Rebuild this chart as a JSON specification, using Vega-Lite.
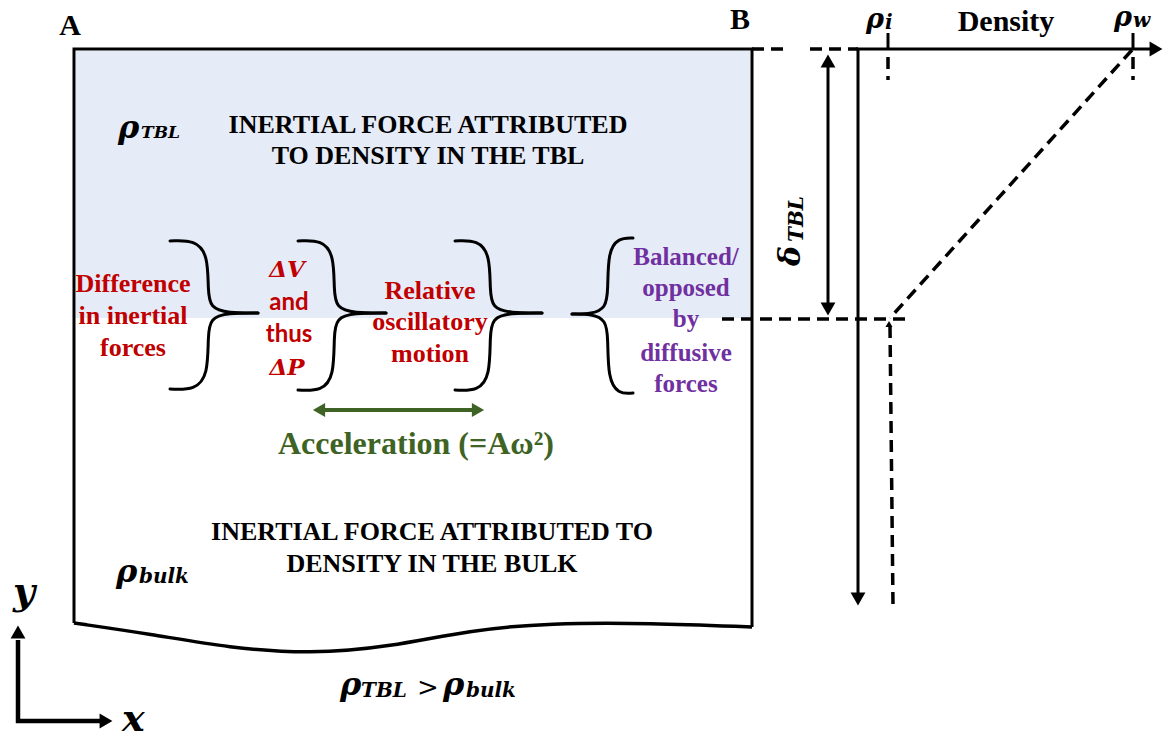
{
  "$schema": "https://vega.github.io/schema/vega-lite/v6.json",
  "width": 1174,
  "height": 740,
  "autosize": {"type": "fit", "contains": "padding"},
  "padding": 0,
  "background": "white",
  "config": {"view": {"stroke": null}},
  "encoding": {
    "x": {"field": "x", "type": "quantitative", "scale": {"domain": [0, 1174], "nice": false, "zero": false}, "axis": null},
    "y": {"field": "y", "type": "quantitative", "scale": {"domain": [0, 740], "nice": false, "zero": false, "reverse": true}, "axis": null}
  },
  "layer": [
    {
      "data": {"values": [{"x": 76, "y": 51, "x2": 750, "y2": 318}]},
      "mark": {"type": "rect", "fill": "#e5ebf7"},
      "encoding": {"x2": {"field": "x2"}, "y2": {"field": "y2"}}
    },
    {
      "data": {"values": [
        {"id": "box", "o": 1, "x": 74, "y": 623}, {"id": "box", "o": 2, "x": 74, "y": 49}, {"id": "box", "o": 3, "x": 752, "y": 49}, {"id": "box", "o": 4, "x": 752, "y": 627},
        {"id": "dv", "o": 1, "x": 858, "y": 49}, {"id": "dv", "o": 2, "x": 858, "y": 596},
        {"id": "dh", "o": 1, "x": 856, "y": 49}, {"id": "dh", "o": 2, "x": 1150, "y": 49},
        {"id": "dl", "o": 1, "x": 828, "y": 66}, {"id": "dl", "o": 2, "x": 828, "y": 304},
        {"id": "ti", "o": 1, "x": 888, "y": 33}, {"id": "ti", "o": 2, "x": 888, "y": 49},
        {"id": "tw", "o": 1, "x": 1133, "y": 33}, {"id": "tw", "o": 2, "x": 1133, "y": 49}
      ]},
      "mark": {"type": "line", "color": "black", "strokeWidth": 3},
      "encoding": {"detail": {"field": "id"}, "order": {"field": "o", "type": "quantitative"}}
    },
    {
      "data": {"values": [
        {"id": "ya", "o": 1, "x": 18, "y": 723}, {"id": "ya", "o": 2, "x": 18, "y": 640},
        {"id": "xa", "o": 1, "x": 16, "y": 721}, {"id": "xa", "o": 2, "x": 100, "y": 721}
      ]},
      "mark": {"type": "line", "color": "black", "strokeWidth": 4.5},
      "encoding": {"detail": {"field": "id"}, "order": {"field": "o", "type": "quantitative"}}
    },
    {
      "data": {"values": [
        {"id": "w", "o": 1, "x": 74, "y": 623}, {"id": "w", "o": 2, "x": 150, "y": 634}, {"id": "w", "o": 3, "x": 230, "y": 648},
        {"id": "w", "o": 4, "x": 310, "y": 654}, {"id": "w", "o": 5, "x": 390, "y": 647}, {"id": "w", "o": 6, "x": 470, "y": 630},
        {"id": "w", "o": 7, "x": 550, "y": 623}, {"id": "w", "o": 8, "x": 650, "y": 623}, {"id": "w", "o": 9, "x": 752, "y": 627}
      ]},
      "mark": {"type": "line", "color": "black", "strokeWidth": 3.5, "interpolate": "basis"},
      "encoding": {"detail": {"field": "id"}, "order": {"field": "o", "type": "quantitative"}}
    },
    {
      "data": {"values": [
        {"id": "b1u", "o": 1, "x": 170, "y": 241}, {"id": "b1u", "o": 2, "x": 195, "y": 240}, {"id": "b1u", "o": 3, "x": 208, "y": 255}, {"id": "b1u", "o": 4, "x": 208, "y": 290}, {"id": "b1u", "o": 5, "x": 210, "y": 308}, {"id": "b1u", "o": 6, "x": 228, "y": 313}, {"id": "b1u", "o": 7, "x": 258, "y": 313},
        {"id": "b1l", "o": 1, "x": 170, "y": 389}, {"id": "b1l", "o": 2, "x": 195, "y": 390}, {"id": "b1l", "o": 3, "x": 208, "y": 375}, {"id": "b1l", "o": 4, "x": 208, "y": 336}, {"id": "b1l", "o": 5, "x": 210, "y": 318}, {"id": "b1l", "o": 6, "x": 228, "y": 313}, {"id": "b1l", "o": 7, "x": 258, "y": 313},
        {"id": "b2u", "o": 1, "x": 298, "y": 241}, {"id": "b2u", "o": 2, "x": 322, "y": 240}, {"id": "b2u", "o": 3, "x": 334, "y": 255}, {"id": "b2u", "o": 4, "x": 334, "y": 290}, {"id": "b2u", "o": 5, "x": 336, "y": 308}, {"id": "b2u", "o": 6, "x": 354, "y": 313}, {"id": "b2u", "o": 7, "x": 386, "y": 313},
        {"id": "b2l", "o": 1, "x": 298, "y": 390}, {"id": "b2l", "o": 2, "x": 322, "y": 391}, {"id": "b2l", "o": 3, "x": 334, "y": 376}, {"id": "b2l", "o": 4, "x": 334, "y": 336}, {"id": "b2l", "o": 5, "x": 336, "y": 318}, {"id": "b2l", "o": 6, "x": 354, "y": 313}, {"id": "b2l", "o": 7, "x": 386, "y": 313},
        {"id": "b3u", "o": 1, "x": 455, "y": 241}, {"id": "b3u", "o": 2, "x": 478, "y": 240}, {"id": "b3u", "o": 3, "x": 490, "y": 255}, {"id": "b3u", "o": 4, "x": 490, "y": 290}, {"id": "b3u", "o": 5, "x": 492, "y": 308}, {"id": "b3u", "o": 6, "x": 510, "y": 313}, {"id": "b3u", "o": 7, "x": 542, "y": 313},
        {"id": "b3l", "o": 1, "x": 455, "y": 390}, {"id": "b3l", "o": 2, "x": 478, "y": 391}, {"id": "b3l", "o": 3, "x": 490, "y": 376}, {"id": "b3l", "o": 4, "x": 490, "y": 336}, {"id": "b3l", "o": 5, "x": 492, "y": 318}, {"id": "b3l", "o": 6, "x": 510, "y": 313}, {"id": "b3l", "o": 7, "x": 542, "y": 313},
        {"id": "b4u", "o": 1, "x": 633, "y": 238}, {"id": "b4u", "o": 2, "x": 618, "y": 238}, {"id": "b4u", "o": 3, "x": 608, "y": 252}, {"id": "b4u", "o": 4, "x": 608, "y": 290}, {"id": "b4u", "o": 5, "x": 606, "y": 308}, {"id": "b4u", "o": 6, "x": 592, "y": 314}, {"id": "b4u", "o": 7, "x": 572, "y": 314},
        {"id": "b4l", "o": 1, "x": 633, "y": 393}, {"id": "b4l", "o": 2, "x": 618, "y": 394}, {"id": "b4l", "o": 3, "x": 608, "y": 378}, {"id": "b4l", "o": 4, "x": 608, "y": 338}, {"id": "b4l", "o": 5, "x": 606, "y": 320}, {"id": "b4l", "o": 6, "x": 592, "y": 314}, {"id": "b4l", "o": 7, "x": 572, "y": 314}
      ]},
      "mark": {"type": "line", "color": "black", "strokeWidth": 3, "interpolate": "basis", "strokeCap": "round"},
      "encoding": {"detail": {"field": "id"}, "order": {"field": "o", "type": "quantitative"}}
    },
    {
      "data": {"values": [
        {"id": "top", "o": 1, "x": 752, "y": 49}, {"id": "top", "o": 2, "x": 790, "y": 49},
        {"id": "top2", "o": 1, "x": 810, "y": 49}, {"id": "top2", "o": 2, "x": 858, "y": 49},
        {"id": "bot", "o": 1, "x": 722, "y": 319}, {"id": "bot", "o": 2, "x": 905, "y": 319},
        {"id": "di", "o": 1, "x": 888, "y": 57}, {"id": "di", "o": 2, "x": 888, "y": 80},
        {"id": "dw", "o": 1, "x": 1133, "y": 57}, {"id": "dw", "o": 2, "x": 1133, "y": 80},
        {"id": "diag", "o": 1, "x": 1132, "y": 50}, {"id": "diag", "o": 2, "x": 890, "y": 318},
        {"id": "vert", "o": 1, "x": 890, "y": 326}, {"id": "vert", "o": 2, "x": 893, "y": 606}
      ]},
      "mark": {"type": "line", "color": "black", "strokeWidth": 3.5, "strokeDash": [12, 7]},
      "encoding": {"detail": {"field": "id"}, "order": {"field": "o", "type": "quantitative"}}
    },
    {
      "data": {"values": [{"id": "g", "o": 1, "x": 320, "y": 410}, {"id": "g", "o": 2, "x": 477, "y": 410}]},
      "mark": {"type": "line", "color": "#3e6324", "strokeWidth": 4},
      "encoding": {"detail": {"field": "id"}, "order": {"field": "o", "type": "quantitative"}}
    },
    {
      "data": {"values": [
        {"x": 828, "y": 61, "dir": "up"}, {"x": 828, "y": 309, "dir": "down"}, {"x": 858, "y": 599, "dir": "down"},
        {"x": 1156, "y": 49, "dir": "right"}, {"x": 18, "y": 632, "dir": "up"}, {"x": 106, "y": 721, "dir": "right"}
      ]},
      "mark": {"type": "point", "filled": true, "color": "black", "size": 220, "opacity": 1},
      "encoding": {"shape": {"field": "dir", "scale": {"domain": ["up", "down", "left", "right"], "range": ["triangle-up", "triangle-down", "triangle-left", "triangle-right"]}, "legend": null}}
    },
    {
      "data": {"values": [{"x": 889, "y": 324, "dir": "up"}]},
      "mark": {"type": "point", "filled": true, "color": "black", "size": 50, "opacity": 1, "shape": "triangle-up"}
    },
    {
      "data": {"values": [{"x": 319, "y": 410, "dir": "left"}, {"x": 478, "y": 410, "dir": "right"}]},
      "mark": {"type": "point", "filled": true, "color": "#3e6324", "size": 200, "opacity": 1},
      "encoding": {"shape": {"field": "dir", "scale": {"domain": ["up", "down", "left", "right"], "range": ["triangle-up", "triangle-down", "triangle-left", "triangle-right"]}, "legend": null}}
    },
    {
      "data": {"values": [{"x": 70, "y": 35, "t": "A"}, {"x": 740, "y": 29, "t": "B"}, {"x": 1006, "y": 31, "t": "Density"}]},
      "mark": {"type": "text", "font": "Liberation Serif", "fontWeight": "bold", "fontSize": 30, "align": "center", "baseline": "alphabetic", "color": "black"},
      "encoding": {"text": {"field": "t"}}
    },
    {
      "data": {"values": [
        {"x": 428, "y": 133, "t": "INERTIAL FORCE ATTRIBUTED"}, {"x": 428, "y": 164, "t": "TO DENSITY IN THE TBL"},
        {"x": 432, "y": 540, "t": "INERTIAL FORCE ATTRIBUTED TO"}, {"x": 432, "y": 572, "t": "DENSITY IN THE BULK"}
      ]},
      "mark": {"type": "text", "font": "Liberation Serif", "fontWeight": "bold", "fontSize": 26, "align": "center", "baseline": "alphabetic", "color": "black"},
      "encoding": {"text": {"field": "t"}}
    },
    {
      "data": {"values": [
        {"x": 133, "y": 292, "t": "Difference"}, {"x": 133, "y": 324, "t": "in inertial"}, {"x": 133, "y": 356, "t": "forces"},
        {"x": 430, "y": 299, "t": "Relative"}, {"x": 430, "y": 330, "t": "oscillatory"}, {"x": 430, "y": 362, "t": "motion"}
      ]},
      "mark": {"type": "text", "font": "Liberation Serif", "fontWeight": "bold", "fontSize": 26, "align": "center", "baseline": "alphabetic", "color": "#c00000"},
      "encoding": {"text": {"field": "t"}}
    },
    {
      "data": {"values": [{"x": 289, "y": 310, "t": "and"}, {"x": 289, "y": 342, "t": "thus"}]},
      "mark": {"type": "text", "font": "Lato", "fontWeight": "bold", "fontSize": 24, "align": "center", "baseline": "alphabetic", "color": "#c00000"},
      "encoding": {"text": {"field": "t"}}
    },
    {
      "data": {"values": [{"x": 287, "y": 277, "t": "ΔV"}, {"x": 287, "y": 375, "t": "ΔP"}]},
      "mark": {"type": "text", "font": "DejaVu Serif", "fontWeight": "bold", "fontStyle": "italic", "fontSize": 23, "align": "center", "baseline": "alphabetic", "color": "#c00000"},
      "encoding": {"text": {"field": "t"}}
    },
    {
      "data": {"values": [
        {"x": 686, "y": 265, "t": "Balanced/"}, {"x": 686, "y": 296, "t": "opposed"}, {"x": 686, "y": 327, "t": "by"},
        {"x": 686, "y": 361, "t": "diffusive"}, {"x": 686, "y": 392, "t": "forces"}
      ]},
      "mark": {"type": "text", "font": "Liberation Serif", "fontWeight": "bold", "fontSize": 25, "align": "center", "baseline": "alphabetic", "color": "#7030a0"},
      "encoding": {"text": {"field": "t"}}
    },
    {
      "data": {"values": [{"x": 416, "y": 454, "t": "Acceleration (=Aω²)"}]},
      "mark": {"type": "text", "font": "Liberation Serif", "fontWeight": "bold", "fontSize": 32, "align": "center", "baseline": "alphabetic", "color": "#3e6324"},
      "encoding": {"text": {"field": "t"}}
    },
    {
      "data": {"values": [
        {"x": 118, "y": 138, "t": "ρ"}, {"x": 116, "y": 582, "t": "ρ"},
        {"x": 340, "y": 695, "t": "ρ"}, {"x": 443, "y": 695, "t": "ρ"}
      ]},
      "mark": {"type": "text", "font": "DejaVu Serif", "fontWeight": "bold", "fontStyle": "italic", "fontSize": 32, "align": "left", "baseline": "alphabetic", "color": "black"},
      "encoding": {"text": {"field": "t"}}
    },
    {
      "data": {"values": [{"x": 866, "y": 28, "t": "ρ"}, {"x": 1114, "y": 26, "t": "ρ"}]},
      "mark": {"type": "text", "font": "DejaVu Serif", "fontWeight": "bold", "fontStyle": "italic", "fontSize": 27, "align": "left", "baseline": "alphabetic", "color": "black"},
      "encoding": {"text": {"field": "t"}}
    },
    {
      "data": {"values": [{"x": 141, "y": 138, "t": "TBL"}]},
      "mark": {"type": "text", "font": "DejaVu Serif", "fontWeight": "bold", "fontStyle": "italic", "fontSize": 17, "align": "left", "baseline": "alphabetic", "color": "black"},
      "encoding": {"text": {"field": "t"}}
    },
    {
      "data": {"values": [
        {"x": 139, "y": 583, "t": "bulk"}, {"x": 885, "y": 29, "t": "i"}, {"x": 1133, "y": 27, "t": "w"},
        {"x": 361, "y": 697, "t": "TBL"}, {"x": 466, "y": 697, "t": "bulk"}
      ]},
      "mark": {"type": "text", "font": "DejaVu Serif", "fontWeight": "bold", "fontStyle": "italic", "fontSize": 20, "align": "left", "baseline": "alphabetic", "color": "black"},
      "encoding": {"text": {"field": "t"}}
    },
    {
      "data": {"values": [{"x": 428, "y": 696, "t": ">"}]},
      "mark": {"type": "text", "font": "DejaVu Serif", "fontSize": 26, "align": "center", "baseline": "alphabetic", "color": "black"},
      "encoding": {"text": {"field": "t"}}
    },
    {
      "data": {"values": [{"x": 800, "y": 266, "t": "δ"}]},
      "mark": {"type": "text", "font": "DejaVu Serif", "fontWeight": "bold", "fontStyle": "italic", "fontSize": 30, "angle": 270, "align": "left", "baseline": "alphabetic", "color": "black"},
      "encoding": {"text": {"field": "t"}}
    },
    {
      "data": {"values": [{"x": 803, "y": 242, "t": "TBL"}]},
      "mark": {"type": "text", "font": "DejaVu Serif", "fontWeight": "bold", "fontStyle": "italic", "fontSize": 20, "angle": 270, "align": "left", "baseline": "alphabetic", "color": "black"},
      "encoding": {"text": {"field": "t"}}
    },
    {
      "data": {"values": [{"x": 13, "y": 604, "t": "y"}, {"x": 122, "y": 731, "t": "x"}]},
      "mark": {"type": "text", "font": "DejaVu Serif", "fontWeight": "bold", "fontStyle": "italic", "fontSize": 38, "align": "left", "baseline": "alphabetic", "color": "black"},
      "encoding": {"text": {"field": "t"}}
    }
  ]
}
